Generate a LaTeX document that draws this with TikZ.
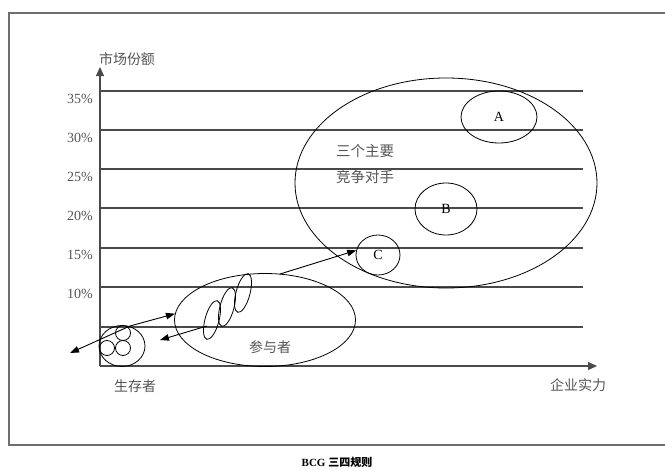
\documentclass[tikz,border=0pt]{standalone}
\usepackage{fontspec}
\setmainfont{Liberation Serif}
\newfontfamily\cjk{Noto Sans CJK SC}
\usetikzlibrary{shapes.geometric,arrows.meta}
\definecolor{linegray}{HTML}{4A4A4A}
\definecolor{txtgray}{HTML}{555555}
\tikzset{
  grid/.style={draw=linegray,line width=1.2pt},
  frameline/.style={draw=linegray!80,line width=1.1pt},
  axis/.style={draw=linegray,line width=1.2pt,-{Triangle[length=9pt,width=8pt]}},
  conn/.style={draw=black,line width=0.9pt,-{Triangle[length=9pt,width=6.5pt]}},
  ell/.style={ellipse,draw=black,line width=0.8pt,inner sep=0pt},
  circ/.style={circle,draw=black,line width=0.8pt,inner sep=0pt,minimum size=15pt},
  pct/.style={font=\fontsize{14}{14}\selectfont,text=txtgray,inner sep=0pt},
  lbl/.style={font=\cjk\fontsize{14}{14}\selectfont,text=txtgray,inner sep=0pt},
  letter/.style={font=\fontsize{14}{14}\selectfont,text=black}
}
\begin{document}
\begin{tikzpicture}[x=1pt,y=-1pt]
\useasboundingbox (0,0) rectangle (665,471);
\fill[white] (0,0) rectangle (665,471);
% frame
\draw[frameline] (665,13) -- (9,13) -- (9,445) -- (665,445);
% grid lines
\foreach \yy in {91,130,169,208,248,287,327}
  \draw[grid] (100,\yy) -- (583,\yy);
% axes
\coordinate (O) at (100,366);
\coordinate (Ytop) at (100,67);
\coordinate (Xend) at (597,366);
\draw[axis] (O) -- (Ytop);
\draw[axis] (O) -- (Xend);
% percent labels
\node[pct] (p35) at (80,99) {35\%};
\node[pct] (p30) at (80,138) {30\%};
\node[pct] (p25) at (80,177) {25\%};
\node[pct] (p20) at (80,216) {20\%};
\node[pct] (p15) at (80,255) {15\%};
\node[pct] (p10) at (80,294) {10\%};
% axis labels
\node[lbl] (ylab) at (127,59) {市场份额};
\node[lbl] (xlab) at (578,385) {企业实力};
% big ellipse
\node[ell,minimum width=302pt,minimum height=210pt] (big) at (446,183) {};
\node[lbl,anchor=west,font=\cjk\fontsize{14.5}{14.5}\selectfont] (t1) at (336,151) {三个主要};
\node[lbl,anchor=west,font=\cjk\fontsize{14.5}{14.5}\selectfont] (t2) at (336,177) {竞争对手};
\node[ell,minimum width=76pt,minimum height=52pt,letter] (A) at (499,117) {A};
\node[ell,minimum width=62pt,minimum height=52pt,letter] (B) at (446,209) {B};
\node[ell,minimum width=44pt,minimum height=40pt,letter] (C) at (378,255) {C};
% participants
\node[ell,minimum width=181pt,minimum height=93pt] (part) at (265,320) {};
\node[lbl] (partlab) at (270,347) {参与者};
\node[ell,minimum width=14pt,minimum height=40pt,rotate=-15] (e1) at (212,320) {};
\node[ell,minimum width=14pt,minimum height=40pt,rotate=-15] (e2) at (227,307) {};
\node[ell,minimum width=14pt,minimum height=40pt,rotate=-15] (e3) at (243,293) {};
% survivors
\node[ell,minimum width=46pt,minimum height=41pt] (surv) at (122,346) {};
\node[circ] (c1) at (123,333) {};
\node[circ] (c2) at (107,348) {};
\node[circ] (c3) at (123,348) {};
\node[lbl] (survlab) at (135,386) {生存者};
% arrows
\coordinate (s0) at (130,326);
\coordinate (out1) at (70,353);
\coordinate (p0) at (207,326);
\coordinate (out2) at (160,340);
\coordinate (q0) at (280,274);
\draw[conn] (s0) -- (part.176);
\draw[conn] (s0) -- (out1);
\draw[conn] (p0) -- (out2);
\draw[conn] (q0) -- (C.168);
% caption
\node[font=\bfseries\fontsize{11}{11}\selectfont,text=black] (cap) at (337,462) {BCG {\cjk\bfseries 三四规则}};
\end{tikzpicture}
\end{document}
